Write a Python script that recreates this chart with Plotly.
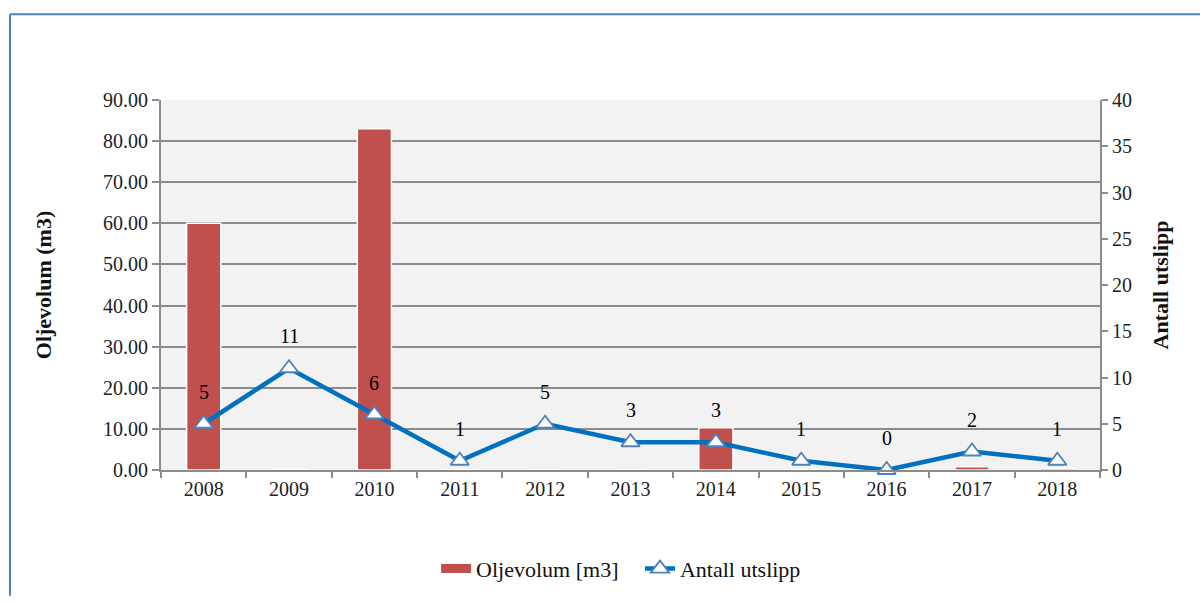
import plotly.graph_objects as go

years = ["2008", "2009", "2010", "2011", "2012", "2013", "2014", "2015", "2016", "2017", "2018"]
oljevolum = [60.0, 0.2, 83.0, 0.0, 0.0, 0.0, 10.3, 0.0, 0.0, 0.8, 0.4]
antall = [5, 11, 6, 1, 5, 3, 3, 1, 0, 2, 1]
left_ticks = [0, 10, 20, 30, 40, 50, 60, 70, 80, 90]
right_ticks = [0, 5, 10, 15, 20, 25, 30, 35, 40]

FONT = "Liberation Serif, Times New Roman, serif"
GRID = "#8c8c8c"
RED = "#C0504D"

fig = go.Figure()
fig.add_trace(go.Bar(
    x=years, y=oljevolum, name="Oljevolum [m3]", showlegend=False,
    marker=dict(color=RED, line=dict(color="white", width=1.5)),
    yaxis="y",
))
# legend entry for the bars (wide swatch)
fig.add_trace(go.Scatter(
    x=[None], y=[None], name="Oljevolum [m3]   ", mode="lines",
    line=dict(color=RED, width=9), yaxis="y",
))
fig.add_trace(go.Scatter(
    x=years, y=antall, name="Antall utslipp", mode="lines+markers",
    line=dict(color="#0070C0", width=4.5),
    marker=dict(symbol="triangle-up", size=16, color="white",
                line=dict(color="#4F81BD", width=1.8)),
    yaxis="y2", cliponaxis=False,
))

for i, v in enumerate(antall):
    fig.add_annotation(x=i, y=v, xref="x", yref="y2", text=str(v), showarrow=False,
                       yshift=32, font=dict(family=FONT, size=20, color="black"))

fig.update_layout(
    width=1200, height=602,
    margin=dict(l=161, r=100, t=100, b=127),
    paper_bgcolor="white", plot_bgcolor="#F2F2F2",
    font=dict(family=FONT, size=20, color="#222222"),
    bargap=0.6,
    showlegend=True,
    legend=dict(orientation="h", x=0.49, xanchor="center", y=-0.267, yanchor="middle",
                font=dict(family=FONT, size=22, color="#111111"), traceorder="normal"),
    xaxis=dict(type="category", categoryorder="array", categoryarray=years,
               range=[-0.5, len(years) - 0.5],
               showline=True, linecolor=GRID, linewidth=2,
               ticks="outside", tickson="boundaries", ticklen=6, tickcolor=GRID, tickwidth=2,
               showgrid=False, tickangle=0,
               tickfont=dict(family=FONT, size=20, color="#222222")),
    yaxis=dict(range=[0, 90], tickvals=left_ticks, tickformat=".2f",
               showgrid=True, gridcolor=GRID, gridwidth=2,
               showline=True, linecolor=GRID, linewidth=2,
               ticks="outside", ticklen=7, tickcolor=GRID, tickwidth=2,
               zeroline=False,
               title=dict(text="<b>Oljevolum (m3)</b>", font=dict(family=FONT, size=22, color="#111111"), standoff=45),
               tickfont=dict(family=FONT, size=20, color="#222222")),
    yaxis2=dict(range=[0, 40], tickvals=right_ticks, overlaying="y", side="right",
                showgrid=False, showline=True, linecolor=GRID, linewidth=2,
                ticks="outside", ticklen=6, tickcolor=GRID, tickwidth=2, zeroline=False,
                title=dict(text="<b>Antall utslipp</b>", font=dict(family=FONT, size=22, color="#111111"), standoff=22),
                tickfont=dict(family=FONT, size=20, color="#222222")),
    shapes=[
        dict(type="line", xref="paper", yref="paper", x0=-0.1608, x1=-0.1608, y0=1.232, y1=-0.34,
             line=dict(color="#4F81BD", width=2)),
        dict(type="line", xref="paper", yref="paper", x0=-0.1608, x1=1.11, y0=1.232, y1=1.232,
             line=dict(color="#4F81BD", width=2)),
    ],
)

fig.write_html("out.html")
